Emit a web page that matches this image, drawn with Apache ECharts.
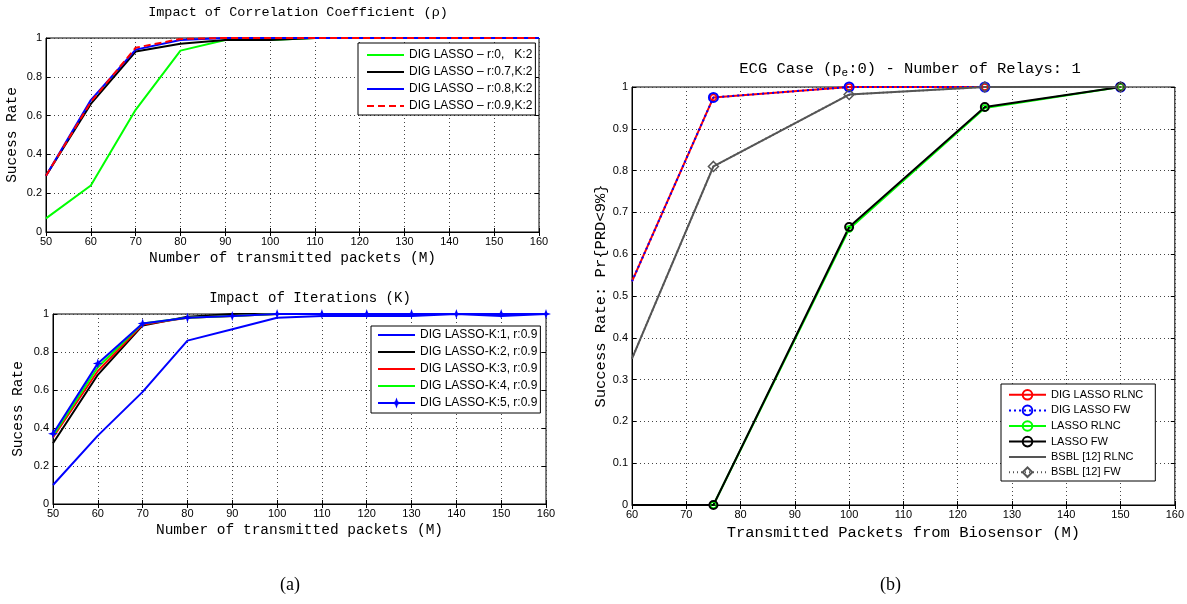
<!DOCTYPE html>
<html>
<head>
<meta charset="utf-8">
<title>DIG LASSO success rate</title>
<script src="https://cdn.jsdelivr.net/npm/echarts@6/dist/echarts.min.js"></script>
<style>
html, body { margin: 0; padding: 0; background: #fff; }
#chart { width: 1187px; height: 604px; }
</style>
</head>
<body>
<div id="chart"></div>
<script>
// (a) top: impact of correlation coefficient
var packetsM = [50, 60, 70, 80, 90, 100, 110, 120, 130, 140, 150, 160];
var rho00 = [0.07, 0.24, 0.63, 0.935, 0.99, 0.99, 1, 1, 1, 1, 1, 1];
var rho07 = [0.29, 0.66, 0.93, 0.97, 0.99, 0.99, 1, 1, 1, 1, 1, 1];
var rho08 = [0.29, 0.68, 0.94, 0.99, 1, 1, 1, 1, 1, 1, 1, 1];
var rho09 = [0.29, 0.67, 0.95, 0.995, 1, 1, 1, 1, 1, 1, 1, 1];

// (a) bottom: impact of iterations
var iterK1 = [0.10, 0.36, 0.59, 0.86, 0.92, 0.98, 0.99, 0.99, 0.99, 1, 0.99, 1];
var iterK2 = [0.32, 0.68, 0.94, 0.985, 1, 1, 1, 1, 1, 1, 1, 1];
var iterK3 = [0.35, 0.70, 0.945, 0.98, 0.99, 1, 1, 1, 1, 1, 1, 1];
var iterK4 = [0.36, 0.72, 0.95, 0.98, 0.99, 1, 1, 1, 1, 1, 1, 1];
var iterK5 = [0.37, 0.74, 0.95, 0.98, 0.99, 1, 1, 1, 1, 1, 1, 1];

// (b) ECG case, one relay
var relayPackets = [60, 75, 100, 125, 150];
var digRlnc = [0.535, 0.975, 1, 1, 1];
var digFw = [0.535, 0.975, 1, 1, 1];
var lassoRlnc = [0, 0, 0.66, 0.95, 1];
var lassoFw = [0, 0, 0.665, 0.952, 1];
var bsblRlnc = [0.35, 0.81, 0.982, 1, 1];
var bsblFw = [0.35, 0.81, 0.982, 1, 1];

var mono = '"Liberation Mono", "DejaVu Sans Mono", monospace';
var sans = '"Liberation Sans", Arial, sans-serif';

function pairs(xs, ys) {
  return xs.map(function (x, i) { return [x, ys[i]]; });
}
// first point of (b) sits on the axis edge, no marker there
function edgePairs(xs, ys) {
  return xs.map(function (x, i) {
    return i === 0 ? { value: [x, ys[i]], symbol: 'none' } : [x, ys[i]];
  });
}

var gridLine = { show: true, lineStyle: { color: '#444', type: [1, 3], width: 1 } };

function xAxis(gi, min, name, nameSize, nameGap) {
  return {
    type: 'value', gridIndex: gi, min: min, max: 160, interval: 10,
    name: name, nameLocation: 'middle', nameGap: nameGap,
    nameTextStyle: { fontFamily: mono, fontSize: nameSize, color: '#000' },
    axisLine: { show: true, lineStyle: { color: '#000' } },
    axisTick: { show: true, inside: true, length: 4, lineStyle: { color: '#000' } },
    axisLabel: { fontFamily: sans, fontSize: 11, color: '#000', margin: 4 },
    splitLine: gridLine
  };
}
function yAxis(gi, step, name, nameSize, nameGap) {
  return {
    type: 'value', gridIndex: gi, min: 0, max: 1, interval: step,
    name: name, nameLocation: 'middle', nameGap: nameGap,
    nameTextStyle: { fontFamily: mono, fontSize: nameSize, color: '#000' },
    axisLine: { show: true, lineStyle: { color: '#000' } },
    axisTick: { show: true, inside: true, length: 4, lineStyle: { color: '#000' } },
    axisLabel: { fontFamily: sans, fontSize: 11, color: '#000', margin: 4 },
    splitLine: gridLine
  };
}
// mirrored ticks on top and right
function xMirror(gi, min) {
  return {
    type: 'value', gridIndex: gi, min: min, max: 160, interval: 10, position: 'top',
    axisLine: { show: false }, axisLabel: { show: false }, splitLine: { show: false },
    axisTick: { show: true, inside: true, length: 4, lineStyle: { color: '#000' } }
  };
}
function yMirror(gi, step) {
  return {
    type: 'value', gridIndex: gi, min: 0, max: 1, interval: step, position: 'right',
    axisLine: { show: false }, axisLabel: { show: false }, splitLine: { show: false },
    axisTick: { show: true, inside: true, length: 4, lineStyle: { color: '#000' } }
  };
}

function plain(name, gi, xs, ys, color, type) {
  return {
    name: name, type: 'line', xAxisIndex: gi, yAxisIndex: gi,
    data: pairs(xs, ys), symbol: 'none', color: color,
    lineStyle: { width: 2, color: color, type: type || 'solid' }, animation: false
  };
}
function marked(name, xs, ys, color, type, symbol, size, bw) {
  return {
    name: name, type: 'line', xAxisIndex: 2, yAxisIndex: 2,
    data: edgePairs(xs, ys), symbol: symbol, symbolSize: size, showAllSymbol: true,
    color: color,
    itemStyle: { color: 'rgba(0,0,0,0)', borderColor: color, borderWidth: bw },
    lineStyle: { width: 2, color: color, type: type }, animation: false
  };
}

var star = 'path://M0,-10 L2.5,-2.5 L10,0 L2.5,2.5 L0,10 L-2.5,2.5 L-10,0 L-2.5,-2.5 Z';
var k5 = plain('DIG LASSO-K:5, r:0.9', 1, packetsM, iterK5, '#0000ff');
k5.symbol = star;
k5.symbolSize = 10;
k5.showAllSymbol = true;
k5.itemStyle = { color: '#0000ff' };

// legend entries for series without markers: hide the default marker in the icon
function lineOnly(name) {
  return { name: name, itemStyle: { opacity: 0 } };
}

function legend(extra) {
  var o = {
    orient: 'vertical', backgroundColor: '#fff', borderColor: '#000', borderWidth: 1,
    borderRadius: 0, itemWidth: 37
  };
  for (var k in extra) o[k] = extra[k];
  return o;
}

var chart = echarts.init(document.getElementById('chart'));
chart.setOption({
  backgroundColor: '#fff',
  animation: false,
  title: [
    { text: 'Impact of Correlation Coefficient (ρ)', left: 293, top: 0, textAlign: 'center',
      textStyle: { fontFamily: mono, fontSize: 13.5, fontWeight: 'normal', color: '#000' } },
    { text: 'Impact of Iterations (K)', left: 305, top: 286, textAlign: 'center',
      textStyle: { fontFamily: mono, fontSize: 14, fontWeight: 'normal', color: '#000' } },
    { text: 'ECG Case (p{sub|e}:0) - Number of Relays: 1', left: 905, top: 54, textAlign: 'center',
      textStyle: { fontFamily: mono, fontSize: 15.5, fontWeight: 'normal', color: '#000',
        rich: { sub: { fontFamily: mono, fontSize: 11, color: '#000', padding: [9, 0, 0, 0] } } } }
  ],
  grid: [
    { left: 46, top: 38, width: 493, height: 194, show: true, borderColor: '#000', borderWidth: 1 },
    { left: 53, top: 314, width: 493, height: 190, show: true, borderColor: '#000', borderWidth: 1 },
    { left: 632, top: 87, width: 543, height: 418, show: true, borderColor: '#000', borderWidth: 1 }
  ],
  xAxis: [
    xAxis(0, 50, 'Number of transmitted packets (M)', 14.5, 19),
    xAxis(1, 50, 'Number of transmitted packets (M)', 14.5, 19),
    xAxis(2, 60, 'Transmitted Packets from Biosensor (M)', 15.5, 15),
    xMirror(0, 50), xMirror(1, 50), xMirror(2, 60)
  ],
  yAxis: [
    yAxis(0, 0.2, 'Sucess Rate', 14.5, 26),
    yAxis(1, 0.2, 'Sucess Rate', 14.5, 27),
    yAxis(2, 0.1, 'Success Rate: Pr{PRD<9%}', 15.5, 20),
    yMirror(0, 0.2), yMirror(1, 0.2), yMirror(2, 0.1)
  ],
  legend: [
    legend({ left: 358, top: 43, padding: [6, 3, 3, 8], itemHeight: 14, itemGap: 5,
      textStyle: { fontFamily: sans, fontSize: 12, color: '#000' },
      data: ['DIG LASSO – r:0,   K:2', 'DIG LASSO – r:0.7,K:2', 'DIG LASSO – r:0.8,K:2', 'DIG LASSO – r:0.9,K:2'].map(lineOnly) }),
    legend({ left: 371, top: 326, padding: [3, 3, 4, 6], itemHeight: 14, itemGap: 5,
      textStyle: { fontFamily: sans, fontSize: 12, color: '#000' },
      data: ['DIG LASSO-K:1, r:0.9', 'DIG LASSO-K:2, r:0.9', 'DIG LASSO-K:3, r:0.9', 'DIG LASSO-K:4, r:0.9'].map(lineOnly)
        .concat(['DIG LASSO-K:5, r:0.9']) }),
    legend({ left: 1001, top: 384, padding: [5, 12, 3, 7], itemHeight: 12, itemGap: 4,
      textStyle: { fontFamily: sans, fontSize: 11, color: '#000' },
      data: ['DIG LASSO RLNC', 'DIG LASSO FW', 'LASSO RLNC', 'LASSO FW', lineOnly('BSBL [12] RLNC'), 'BSBL [12] FW'] })
  ],
  series: [
    plain('DIG LASSO – r:0,   K:2', 0, packetsM, rho00, '#00ff00'),
    plain('DIG LASSO – r:0.7,K:2', 0, packetsM, rho07, '#000000'),
    plain('DIG LASSO – r:0.8,K:2', 0, packetsM, rho08, '#0000ff'),
    plain('DIG LASSO – r:0.9,K:2', 0, packetsM, rho09, '#ff0000', [7, 4]),

    plain('DIG LASSO-K:1, r:0.9', 1, packetsM, iterK1, '#0000ff'),
    plain('DIG LASSO-K:2, r:0.9', 1, packetsM, iterK2, '#000000'),
    plain('DIG LASSO-K:3, r:0.9', 1, packetsM, iterK3, '#ff0000'),
    plain('DIG LASSO-K:4, r:0.9', 1, packetsM, iterK4, '#00ff00'),
    k5,

    marked('DIG LASSO RLNC', relayPackets, digRlnc, '#ff0000', 'solid', 'circle', 6, 1.5),
    marked('DIG LASSO FW', relayPackets, digFw, '#0000ff', [2, 3], 'circle', 9, 2),
    marked('LASSO RLNC', relayPackets, lassoRlnc, '#00ff00', 'solid', 'circle', 6, 1.5),
    marked('LASSO FW', relayPackets, lassoFw, '#000000', 'solid', 'circle', 8, 2),
    marked('BSBL [12] RLNC', relayPackets, bsblRlnc, '#555555', 'solid', 'none', 0, 0),
    marked('BSBL [12] FW', relayPackets, bsblFw, '#555555', [1, 3], 'diamond', 10, 1.5)
  ],
  graphic: [
    { type: 'text', left: 280, top: 576, style: { text: '(a)', font: '18px "Liberation Serif", serif', fill: '#000' } },
    { type: 'text', left: 880, top: 576, style: { text: '(b)', font: '18px "Liberation Serif", serif', fill: '#000' } }
  ]
});
</script>
</body>
</html>
